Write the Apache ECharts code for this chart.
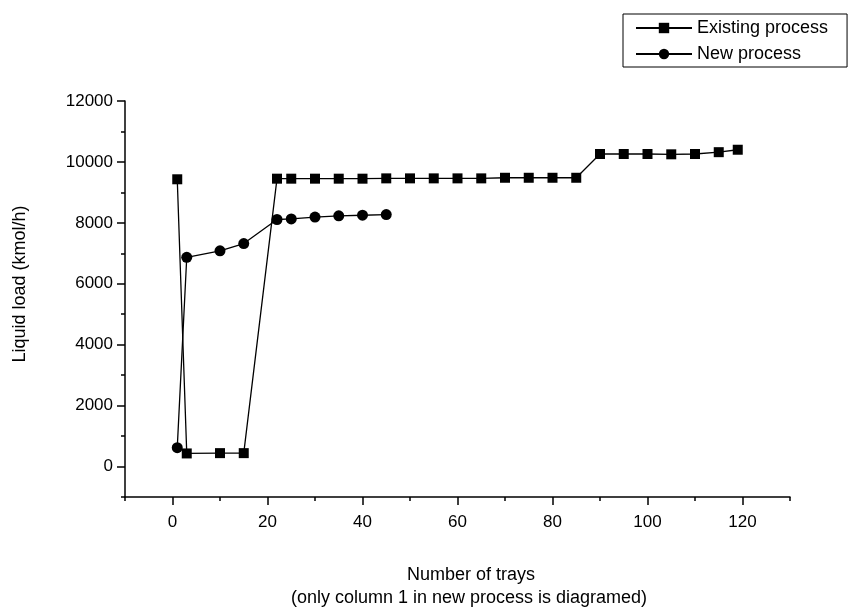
<!DOCTYPE html>
<html>
<head>
<meta charset="utf-8">
<script src="https://cdn.jsdelivr.net/npm/echarts@6/dist/echarts.min.js"></script>
<style>
  html, body { margin: 0; padding: 0; background: #fff; }
  #chart { width: 858px; height: 610px; }
</style>
</head>
<body>
<div id="chart"></div>
<script>
// 塔板数 vs 液相负荷
var traysExisting = [1, 3, 10, 15, 22, 25, 30, 35, 40, 45, 50, 55, 60, 65, 70, 75, 80, 85, 90, 95, 100, 105, 110, 115, 119];
var loadExisting = [9430, 430, 440, 440, 9450, 9450, 9450, 9450, 9450, 9460, 9460, 9460, 9460, 9460, 9480, 9480, 9480, 9480, 10260, 10260, 10260, 10250, 10260, 10320, 10400];
var traysNew = [1, 3, 10, 15, 22, 25, 30, 35, 40, 45];
var loadNew = [620, 6870, 7080, 7320, 8110, 8130, 8190, 8230, 8250, 8270];

var xMajorTicks = [0, 20, 40, 60, 80, 100, 120];
var xMinorTicks = [-10, 10, 30, 50, 70, 90, 110, 130];
var yMajorTicks = [0, 2000, 4000, 6000, 8000, 10000, 12000];
var yMinorTicks = [-1000, 1000, 3000, 5000, 7000, 9000, 11000];

var seriesNames = ['Existing process', 'New process'];

function pairs(xs, ys) {
    return xs.map(function (x, i) { return [x, ys[i]]; });
}
function plain(v) { return String(v); }

var font = 'Liberation Sans, Arial, sans-serif';
var chart = echarts.init(document.getElementById('chart'));

var option = {
    backgroundColor: '#fff',
    animation: false,
    textStyle: { fontFamily: font, color: '#000' },
    grid: { left: 125, right: 68, top: 101, bottom: 113 },
    legend: {
        orient: 'vertical',
        left: 623,
        top: 14,
        padding: [5, 19, 4, 12],
        borderColor: '#000',
        borderWidth: 1,
        itemWidth: 56,
        itemHeight: 13,
        itemGap: 8,
        textStyle: { fontSize: 18, color: '#000', fontFamily: font },
        data: seriesNames
    },
    xAxis: [
        {
            type: 'value', position: 'bottom',
            min: -10, max: 130, interval: 10,
            axisLine: { onZero: false, lineStyle: { color: '#000', width: 1.5 } },
            axisTick: { customValues: xMajorTicks, length: 8, lineStyle: { color: '#000', width: 1.5 } },
            axisLabel: { customValues: xMajorTicks, formatter: plain, fontSize: 17, color: '#000', margin: 17, fontFamily: font },
            splitLine: { show: false }
        },
        {
            type: 'value', position: 'bottom',
            min: -10, max: 130, interval: 10,
            axisLine: { show: false, onZero: false },
            axisTick: { customValues: xMinorTicks, length: 4, lineStyle: { color: '#000', width: 1.5 } },
            axisLabel: { show: false },
            splitLine: { show: false }
        }
    ],
    yAxis: [
        {
            type: 'value', position: 'left',
            min: -1000, max: 12000, interval: 1000,
            axisLine: { show: true, onZero: false, lineStyle: { color: '#000', width: 1.5 } },
            axisTick: { show: true, customValues: yMajorTicks, length: 8, lineStyle: { color: '#000', width: 1.5 } },
            axisLabel: { customValues: yMajorTicks, formatter: plain, fontSize: 17, color: '#000', margin: 12, fontFamily: font },
            splitLine: { show: false }
        },
        {
            type: 'value', position: 'left',
            min: -1000, max: 12000, interval: 1000,
            axisLine: { show: false, onZero: false },
            axisTick: { show: true, customValues: yMinorTicks, length: 4, lineStyle: { color: '#000', width: 1.5 } },
            axisLabel: { show: false },
            splitLine: { show: false }
        }
    ],
    graphic: [
        {
            type: 'text', x: 20, y: 284, rotation: Math.PI / 2,
            style: { text: 'Liquid load (kmol/h)', fontSize: 18, fontFamily: font, fill: '#000', align: 'center', verticalAlign: 'middle' }
        },
        {
            type: 'text', x: 471, y: 575,
            style: { text: 'Number of trays', fontSize: 18, fontFamily: font, fill: '#000', align: 'center', verticalAlign: 'middle' }
        },
        {
            type: 'text', x: 469, y: 598,
            style: { text: '(only column 1 in new process is diagramed)', fontSize: 18, fontFamily: font, fill: '#000', align: 'center', verticalAlign: 'middle' }
        }
    ],
    series: [
        {
            name: seriesNames[0],
            type: 'line',
            xAxisIndex: 0, yAxisIndex: 0,
            symbol: 'rect',
            symbolSize: 10,
            itemStyle: { color: '#000' },
            lineStyle: { color: '#000', width: 1.3 },
            data: pairs(traysExisting, loadExisting)
        },
        {
            name: seriesNames[1],
            type: 'line',
            xAxisIndex: 0, yAxisIndex: 0,
            symbol: 'circle',
            symbolSize: 11,
            itemStyle: { color: '#000' },
            lineStyle: { color: '#000', width: 1.3 },
            data: pairs(traysNew, loadNew)
        }
    ]
};
chart.setOption(option);
</script>
</body>
</html>
